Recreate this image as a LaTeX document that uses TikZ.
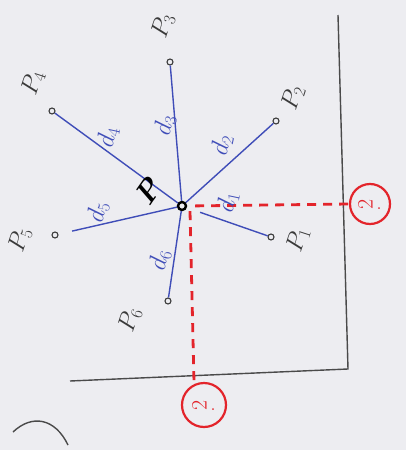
\documentclass[tikz,border=0pt]{standalone}
\usepackage{graphicx}
\usepackage{tikz}
\usetikzlibrary{arrows.meta,positioning,calc}
\definecolor{pen}{HTML}{3F4DB8}
\definecolor{ink}{HTML}{3A3A3A}
\definecolor{mark}{HTML}{E3242B}
\definecolor{paper}{HTML}{EDEDF1}
\definecolor{axis}{HTML}{4A4A4A}
\tikzset{
  pt/.style={circle, draw=ink, line width=1.1pt, inner sep=0pt, minimum size=6pt},
  ctr/.style={circle, draw=black, line width=2.4pt, inner sep=0pt, minimum size=8pt},
  link/.style={draw=pen, line width=1.4pt},
  ax/.style={draw=axis, line width=1.4pt},
  proj/.style={draw=mark, line width=2.8pt, dash pattern=on 9pt off 7pt},
  ring/.style={circle, draw=mark, line width=2.2pt, text=mark, inner sep=0pt, minimum size=40pt, font=\fontsize{22}{24}\selectfont},
  lbl/.style={text=ink, rotate=72, inner sep=0pt, font=\fontsize{25}{28}\selectfont},
  dl/.style={text=pen, rotate=78, inner sep=0pt, font=\fontsize{23}{26}\selectfont},
}

\begin{document}
\begin{tikzpicture}[x=1pt,y=-1pt]
  \fill[paper] (0,0) rectangle (406,450);
  \useasboundingbox (0,0) rectangle (406,450);
  % axes
  \coordinate (top) at (338,15);
  \coordinate (org) at (348,369);
  \coordinate (left) at (70,381);
  \draw[ax] (top) -- (org) -- (left);
  \coordinate (a0) at (13,432);
  \coordinate (a1) at (68,445);
  \draw[ax] (a0) .. controls (32,414) and (55,418) .. (a1);
  % points
  \node[ctr] (P) at (182,206) {};
  \foreach \n/\x/\y in {1/271/237, 2/276/121, 3/170/62, 4/52/111, 5/55/235, 6/168/301}
    \node[pt] (P\n) at (\x,\y) {};
  % distances
  \draw[link, shorten <=14pt] (P) -- (P1);
  \foreach \n in {2,3,4,6}
    \draw[link] (P) -- (P\n);
  \draw[link, shorten >=14pt] (P) -- (P5);
  % projections
  \node[ring] (cx) at (370,204) {\rotatebox{90}{2}\,.};
  \node[ring, minimum size=44pt] (cy) at (204,405) {\rotatebox{90}{2}\,.};
  \draw[proj, shorten <=8pt] (P.east) -- (cx.west);
  \draw[proj] ([xshift=8pt]P.south) -- ([xshift=-10pt]cy.north);
  % labels
  \node[text=black, rotate=55, inner sep=1pt, font=\fontsize{30}{34}\selectfont\bfseries\itshape] (lP) at (148,192) {P};
  \node[lbl] (l1) at (298,240) {$P_1$};
  \node[lbl] (l2) at (293,98) {$P_2$};
  \node[lbl] (l3) at (163,26) {$P_3$};
  \node[lbl] (l4) at (33,83) {$P_4$};
  \node[lbl] (l5) at (20,240) {$P_5$};
  \node[lbl] (l6) at (130,320) {$P_6$};
  \node[dl] (d1) at (228,202) {$d_1$};
  \node[dl] (d2) at (222,145) {$d_2$};
  \node[dl] (d3) at (165,125) {$d_3$};
  \node[dl] (d4) at (108,137) {$d_4$};
  \node[dl] (d5) at (98,212) {$d_5$};
  \node[dl] (d6) at (160,260) {$d_6$};
\end{tikzpicture}
\end{document}
